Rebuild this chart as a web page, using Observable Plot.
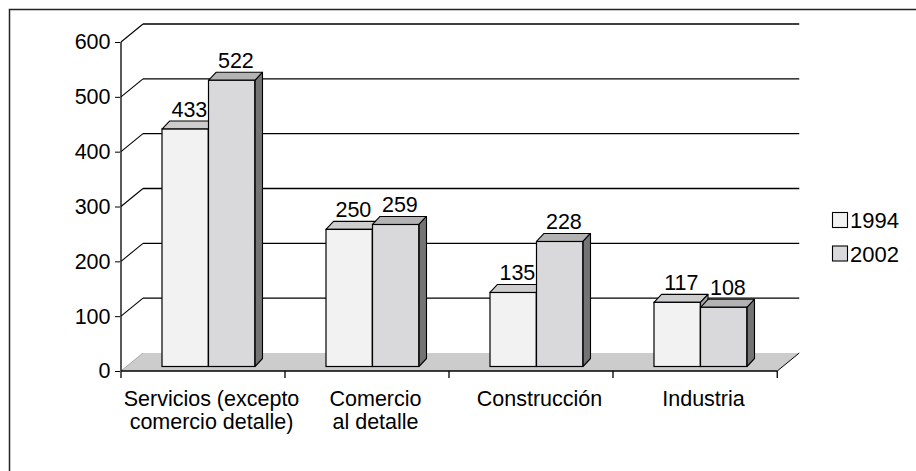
<!DOCTYPE html>
<html>
<head>
<meta charset="utf-8">
<script src="https://cdn.jsdelivr.net/npm/d3@7"></script>
<script src="https://cdn.jsdelivr.net/npm/@observablehq/plot@0.6"></script>
<style>
  html, body { margin: 0; padding: 0; background: #fff; }
  #chart svg { display: block; }
</style>
</head>
<body>
<div id="chart"></div>
<script>
// ---- data ----
const categories = ["Servicios (excepto\ncomercio detalle)", "Comercio\nal detalle", "Construcción", "Industria"];
const series = ["1994", "2002"];
const values1994 = [433, 250, 135, 117];
const values2002 = [522, 259, 228, 108];
const yTicks = [0, 100, 200, 300, 400, 500, 600];

// ---- styling / layout constants ----
const W = 916, H = 471;
const M = {top: 42, right: 139, bottom: 100, left: 120};
const FONT = "'Liberation Sans', Arial, Helvetica, sans-serif";
const WALL = {dx: 22, dy: -18};      // depth of the 3D back wall
const SHIFT = {dx: 5.5, dy: -4.5};   // bars sit a bit inside the floor
const DEPTH = {dx: 7.5, dy: -8};     // depth of each bar
const BAR = {offset: 35.5, width: 46.5};
const front = {"1994": "#f2f2f2", "2002": "#d9d9db"};
const topC = {"1994": "#cdcdcd", "2002": "#b3b3b3"};
const sideC = {"1994": "#a6a6a6", "2002": "#747474"};

const rows = categories.flatMap((c, i) => series.map((s, j) => ({
  category: c, series: s, value: (j === 0 ? values1994 : values2002)[i]
})));

const bw = (W - M.left - M.right) / categories.length;

function box(scales, d) {
  const j = series.indexOf(d.series);
  const x0 = scales.x(d.category) + BAR.offset + j * BAR.width + SHIFT.dx;
  const x1 = x0 + BAR.width;
  const yt = scales.y(d.value) + SHIFT.dy;
  const yb = scales.y(0) + SHIFT.dy;
  return {x0, x1, yt, yb};
}
const pts = a => a.map(p => p.join(",")).join(" ");

// back wall, floor, axis lines, frame
function backdrop(index, scales) {
  const g = d3.create("svg:g");
  const xa = scales.x(categories[0]);
  const xb = scales.x(categories[categories.length - 1]) + bw;
  const y0 = scales.y(0);
  g.append("path").attr("d", `M9.5,${H}V9.5H${W}`).attr("fill", "none")
    .attr("stroke", "#222").attr("stroke-width", 1.5);
  g.append("polygon").attr("points", pts([[xa, y0], [xa + WALL.dx, y0 + WALL.dy], [xb + WALL.dx, y0 + WALL.dy], [xb, y0]]))
    .attr("fill", "#cccccc");
  g.append("line").attr("x1", xa).attr("y1", y0).attr("x2", xa + WALL.dx).attr("y2", y0 + WALL.dy)
    .attr("stroke", "#aaaaaa");
  g.append("line").attr("x1", xb).attr("y1", y0).attr("x2", xb + WALL.dx).attr("y2", y0 + WALL.dy)
    .attr("stroke", "#000");
  for (const v of yTicks.filter(v => v > 0)) {
    const y = scales.y(v);
    g.append("line").attr("x1", xa).attr("y1", y).attr("x2", xa + WALL.dx).attr("y2", y + WALL.dy)
      .attr("stroke", "#000").attr("stroke-width", 1.1);
    g.append("line").attr("x1", xa + WALL.dx).attr("y1", y + WALL.dy).attr("x2", xb + WALL.dx).attr("y2", y + WALL.dy)
      .attr("stroke", "#000").attr("stroke-width", 1.3);
  }
  g.append("line").attr("x1", xa).attr("x2", xa).attr("y1", scales.y(yTicks[yTicks.length - 1])).attr("y2", y0)
    .attr("stroke", "#000").attr("stroke-width", 1.3);
  g.append("line").attr("x1", xa).attr("x2", xb).attr("y1", y0).attr("y2", y0)
    .attr("stroke", "#000").attr("stroke-width", 1.5);
  for (let i = 0; i <= categories.length; i++) {
    const x = i < categories.length ? scales.x(categories[i]) : xb;
    g.append("line").attr("x1", x).attr("x2", x).attr("y1", y0).attr("y2", y0 + 7)
      .attr("stroke", "#000").attr("stroke-width", 1.3);
  }
  return g.node();
}

// top and side faces of the bars
function faces(index, scales) {
  const g = d3.create("svg:g").attr("stroke", "#000").attr("stroke-width", 1.1).attr("stroke-linejoin", "round");
  for (const d of rows) {
    const {x0, x1, yt, yb} = box(scales, d);
    g.append("polygon").attr("fill", topC[d.series])
      .attr("points", pts([[x0, yt], [x0 + DEPTH.dx, yt + DEPTH.dy], [x1 + DEPTH.dx, yt + DEPTH.dy], [x1, yt]]));
    g.append("polygon").attr("fill", sideC[d.series])
      .attr("points", pts([[x1, yt], [x1 + DEPTH.dx, yt + DEPTH.dy], [x1 + DEPTH.dx, yb + DEPTH.dy], [x1, yb]]));
  }
  return g.node();
}

// legend
function legend() {
  const g = d3.create("svg:g").attr("font-size", 22).attr("font-family", FONT).attr("text-anchor", "start");
  series.forEach((s, i) => {
    const y = 212 + i * 33.5;
    g.append("rect").attr("x", 832.5).attr("y", y + 0.5).attr("width", 15).attr("height", 15)
      .attr("fill", front[s]).attr("stroke", "#000").attr("stroke-width", 1.1);
    g.append("text").attr("x", 850).attr("y", y + 16).attr("fill", "#000").attr("text-anchor", "start").text(s);
  });
  return g.node();
}

const barMarks = series.map((s, j) => Plot.barY(rows.filter(d => d.series === s), {
  x: "category", y: "value",
  fill: front[s], stroke: "#000", strokeWidth: 1.2,
  insetLeft: BAR.offset + j * BAR.width,
  insetRight: bw - BAR.offset - (j + 1) * BAR.width,
  dx: SHIFT.dx, dy: SHIFT.dy
}));

const labelMarks = series.map((s, j) => Plot.text(rows.filter(d => d.series === s), {
  x: "category", y: "value", text: d => String(d.value),
  textAnchor: "middle", lineAnchor: "bottom",
  dx: BAR.offset + (j + 0.5) * BAR.width - bw / 2 + SHIFT.dx + DEPTH.dx / 2,
  dy: SHIFT.dy - 13,
  fontSize: 21.5, fill: "#000"
}));

const chart = Plot.plot({
  width: W, height: H,
  marginTop: M.top, marginRight: M.right, marginBottom: M.bottom, marginLeft: M.left,
  style: {fontFamily: FONT, fontSize: "21.5px", color: "#000", background: "#fff", overflow: "visible"},
  x: {type: "band", domain: categories, padding: 0, axis: null},
  y: {domain: [0, 600], axis: null},
  marks: [
    backdrop,
    faces,
    ...barMarks,
    ...labelMarks,
    Plot.axisY(yTicks, {anchor: "left", tickSize: 5, tickPadding: 5, label: null, fontSize: 21.5, tickFormat: d => String(d)}),
    Plot.text(categories, {
      x: d => d, frameAnchor: "bottom", lineAnchor: "top", textAnchor: "middle",
      dx: 8, dy: 18, lineHeight: 1.08, fontSize: 21.5, fill: "#000"
    }),
    legend
  ]
});
document.getElementById("chart").appendChild(chart);
</script>
</body>
</html>
